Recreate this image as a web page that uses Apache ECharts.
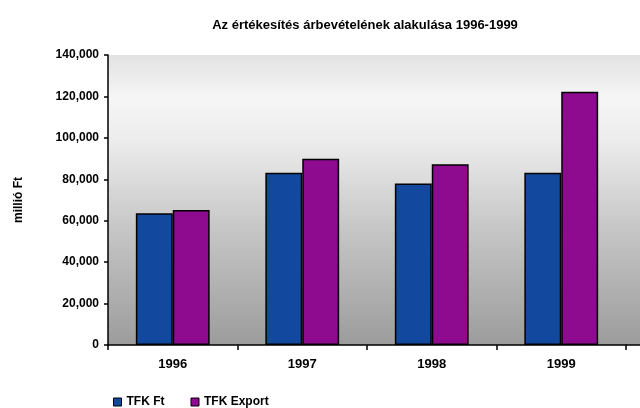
<!DOCTYPE html>
<html>
<head>
<meta charset="utf-8">
<script src="https://cdn.jsdelivr.net/npm/echarts@6/dist/echarts.min.js"></script>
<style>html,body{margin:0;padding:0;background:#fff}#c{width:640px;height:408px}</style>
</head>
<body>
<div id="c"></div>
<script>
const titleText = "Az értékesítés árbevételének alakulása 1996-1999";
const yAxisName = "millió Ft";
const categories = ["1996", "1997", "1998", "1999"];
const seriesNames = ["TFK Ft", "TFK Export"];
const tfkFt = [63600, 83200, 78000, 83200];
const tfkExport = [65200, 89900, 87200, 122300];
const yTicks = [0, 20000, 40000, 60000, 80000, 100000, 120000, 140000];

const chart = echarts.init(document.getElementById('c'));
const fmt = v => v === 0 ? '0' : v.toLocaleString('en-US');
const font = 'Arial, Liberation Sans';
const bgGrad = () => new echarts.graphic.LinearGradient(0, 0, 0, 1, [
  {offset: 0, color: '#e2e2e2'},
  {offset: 0.15, color: '#f6f6f6'},
  {offset: 0.3, color: '#ececec'},
  {offset: 0.6, color: '#c6c6c6'},
  {offset: 1, color: '#9c9c9c'}
]);
chart.setOption({
  animation: false,
  title: {
    text: titleText, left: 360, top: 14, textAlign: 'center',
    textStyle: {fontFamily: font, fontSize: 13, fontWeight: 'bold', color: '#000'}
  },
  legend: {
    left: 108, top: 391, itemWidth: 8, itemHeight: 8, itemGap: 26,
    icon: 'rect',
    itemStyle: {borderColor: '#000', borderWidth: 1},
    textStyle: {fontFamily: font, fontSize: 12, fontWeight: 'bold', color: '#000', padding: [0,0,0,0]},
    data: seriesNames
  },
  graphic: [
    {type: 'rect', shape: {x: 626, y: 55, width: 14, height: 290}, style: {fill: bgGrad()}, z: -1},
    {type: 'line', shape: {x1: 626, y1: 345, x2: 640, y2: 345}, style: {stroke: '#000', lineWidth: 1.5}}
  ],
  grid: {
    left: 108, right: 14, top: 55, bottom: 63, show: true, borderWidth: 0,
    backgroundColor: bgGrad()
  },
  xAxis: {
    type: 'category', data: categories,
    axisLine: {lineStyle: {color: '#000', width: 1.5}},
    axisTick: {show: true, length: 5, lineStyle: {color: '#000', width: 1.5}},
    axisLabel: {margin: 13, fontFamily: font, fontSize: 13, fontWeight: 'bold', color: '#000'}
  },
  yAxis: {
    type: 'value', min: 0, max: 140000, interval: 20000,
    name: yAxisName, nameLocation: 'middle', nameGap: 83, nameRotate: 90,
    nameTextStyle: {fontFamily: font, fontSize: 12, fontWeight: 'bold', color: '#000'},
    axisLine: {show: true, lineStyle: {color: '#000', width: 1.5}},
    axisTick: {show: true, length: 4, lineStyle: {color: '#000', width: 1.5}},
    splitLine: {show: false},
    axisLabel: {margin: 9, formatter: v => yTicks.includes(v) ? fmt(v) : '', fontFamily: font, fontSize: 12, fontWeight: 'bold', color: '#000'}
  },
  series: [
    {name: seriesNames[0], type: 'bar', data: tfkFt, barGap: '0%', barCategoryGap: '43%',
     itemStyle: {color: '#12489e', borderColor: '#000', borderWidth: 1.5}},
    {name: seriesNames[1], type: 'bar', data: tfkExport, barGap: '0%', barCategoryGap: '43%',
     itemStyle: {color: '#8e0a8e', borderColor: '#000', borderWidth: 1.5}}
  ]
});
</script>
</body>
</html>
